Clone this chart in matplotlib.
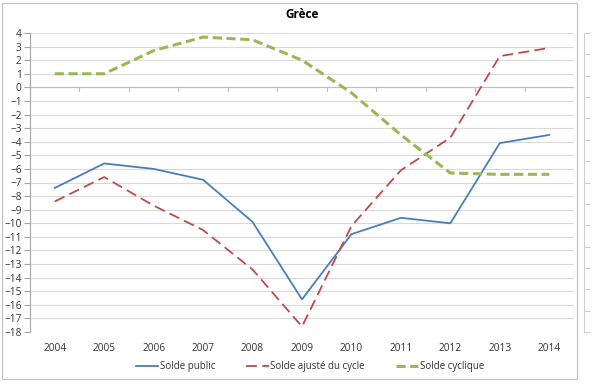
import matplotlib
matplotlib.use('Agg')
import matplotlib.pyplot as plt
from matplotlib.patches import Rectangle

years = ['2004', '2005', '2006', '2007', '2008', '2009', '2010', '2011', '2012', '2013', '2014']
solde_public = [-7.4, -5.6, -6.0, -6.8, -9.9, -15.6, -10.8, -9.6, -10.0, -4.1, -3.5]
solde_ajuste = [-8.4, -6.6, -8.7, -10.5, -13.4, -17.6, -10.2, -6.1, -3.7, 2.3, 2.9]
solde_cyclique = [1.0, 1.0, 2.7, 3.7, 3.5, 2.0, -0.4, -3.5, -6.3, -6.4, -6.4]

plt.rcParams['font.family'] = ['Open Sans', 'DejaVu Sans']

fig = plt.figure(figsize=(5.94, 3.86), dpi=100)
fig.patches.append(Rectangle((2 / 594, 1 - 379 / 386), 575 / 594, 376 / 386,
                             transform=fig.transFigure, fill=False,
                             edgecolor='#bfbfbf', linewidth=0.8))

ax = fig.add_axes([30 / 594, 54 / 386, 544 / 594, 299 / 386])
x = list(range(len(years)))

ax.plot(x, solde_public, color='#4a7ebb', lw=1.3, label='Solde public')
ax.plot(x, solde_ajuste, color='#be4b48', lw=1.3, dashes=(6, 3), label='Solde ajusté du cycle')
ax.plot(x, solde_cyclique, color='#98b954', lw=2.2, dashes=(3, 1.5), label='Solde cyclique')

ax.set_xlim(-0.5, len(years) - 0.5)
ax.set_ylim(-18, 4)
ax.set_yticks(range(-18, 5))
ax.set_xticks(x)
ax.set_xticklabels(years)
ax.grid(axis='y', color='#d9d9d9', lw=0.8)
ax.set_axisbelow(True)
for s in ['top', 'right', 'bottom']:
    ax.spines[s].set_visible(False)
ax.spines['left'].set_color('#a6a6a6')
ax.tick_params(axis='y', length=4, color='#a6a6a6', labelsize=7.3, labelcolor='#333333', pad=2)
ax.tick_params(axis='x', length=0, labelsize=7.3, labelcolor='#333333', pad=8)

# category axis crossing at zero
ax.axhline(0, color='#bfbfbf', lw=0.8, zorder=1)
for i in range(len(years) + 1):
    ax.plot([i - 0.5, i - 0.5], [0, -0.25], color='#bfbfbf', lw=0.8, zorder=1)

fig.text(302 / 594, 1 - 15 / 386, 'Grèce', ha='center', va='center', fontsize=8.5, fontweight='bold')

fig.legend(loc='center', bbox_to_anchor=(310 / 594, 1 - 367 / 386), ncol=3, frameon=False,
           fontsize=7, handlelength=2.3, columnspacing=3.2, handletextpad=0.15,
           labelcolor='#333333')

# stray axis at the right edge
ax2 = fig.add_axes([584 / 594, 54 / 386, 0.0001, 299 / 386])
ax2.set_ylim(0, 14)
ax2.set_yticks(range(0, 15))
ax2.set_yticklabels([])
ax2.set_xticks([])
for s in ['top', 'right', 'bottom']:
    ax2.spines[s].set_visible(False)
ax2.spines['left'].set_color('#d0d0d0')
ax2.tick_params(axis='y', direction='out', left=False, right=True, length=4, color='#d0d0d0')
ax2.patch.set_visible(False)

fig.savefig('out.png', dpi=100)
